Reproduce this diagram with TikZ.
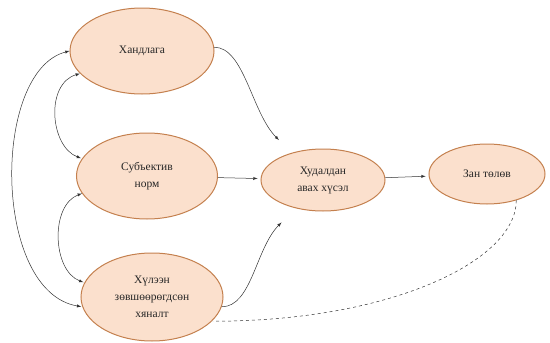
\documentclass[tikz,border=0pt]{standalone}
\usepackage{fontspec}
\setmainfont{Liberation Serif}
\usetikzlibrary{arrows, shapes.geometric}

\definecolor{peach}{RGB}{251,224,205}
\definecolor{rim}{RGB}{196,128,78}
\definecolor{wire}{RGB}{50,50,50}

\begin{document}
\begin{tikzpicture}[
            x = 1pt, y = -1pt, % pixel units, y runs down
            > = latex, % arrow head style
            shorten > = 1pt, % don't touch arrow head to node
            semithick % line style
        ]

        \tikzstyle{factor}=[
            ellipse,
            draw = rim,
            line width = 1pt,
            fill = peach,
            align = center,
            text = black!85,
            inner sep = 1pt,
            font = \fontsize{11.5}{17}\selectfont
        ]
        \tikzstyle{link}=[->, wire, line width = 0.5pt]
        \tikzstyle{both}=[<->, wire, line width = 0.5pt]

        \useasboundingbox (0,0) rectangle (550,343);

        \node[factor, minimum width=144pt, minimum height=86pt] (att) at (142,51) {Хандлага};
        \node[factor, minimum width=141pt, minimum height=86pt] (subj) at (147,176) {Субъектив\\норм};
        \node[factor, minimum width=142pt, minimum height=88pt] (ctrl) at (152,297) {Хүлээн\\зөвшөөрөгдсөн\\хяналт};
        \node[factor, minimum width=124pt, minimum height=62pt] (intent) at (323,180) {Худалдан\\авах хүсэл};
        \node[factor, minimum width=116pt, minimum height=60pt] (behav) at (487,174) {Зан төлөв};

        % into intention
	\draw[link, shorten > = 18pt] (att.3) .. controls +(30,0) and +(-40,-40) .. (intent.139);
	\draw[link, shorten > = 3pt] (subj) -- (intent);
	\draw[link, shorten > = 20pt] (ctrl.-8) .. controls +(30,0) and +(-40,40) .. (intent.226);
	\draw[link, shorten > = 3pt] (intent) -- (behav);
	\draw[wire, line width = 0.5pt, dashed] (behav.-42) .. controls +(0,60) and +(180,0) .. (ctrl.-22);

        % correlations on the left
	\draw[both] (att.180) .. controls +(-78,20) and +(-90,-15) .. (ctrl.188);
	\draw[both] (att.200) .. controls +(-35,10) and +(-32,-12) .. (subj.165);
	\draw[both] (subj.195) .. controls +(-32,12) and +(-32,-12) .. (ctrl.168);
    \end{tikzpicture}
\end{document}
